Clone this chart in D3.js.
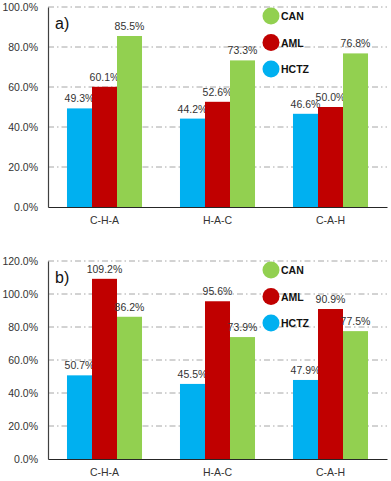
<!DOCTYPE html>
<html>
<head>
<meta charset="utf-8">
<script src="https://cdn.jsdelivr.net/npm/d3@7"></script>
<style>
  body { margin: 0; background: #fff; }
  svg { display: block; font-family: "Liberation Sans", Arial, sans-serif; }
</style>
</head>
<body>
<div id="chart"></div>
<script>
const groups = ['C-H-A', 'H-A-C', 'C-A-H'];
const seriesNames = ['HCTZ', 'AML', 'CAN'];
const colors = ['#00b0f0', '#c00000', '#92d050'];

// panel a
const hctzA = [49.3, 44.2, 46.6];
const amlA = [60.1, 52.6, 50.0];
const canA = [85.5, 73.3, 76.8];
const ticksA = [0, 20, 40, 60, 80, 100];

// panel b
const hctzB = [50.7, 45.5, 47.9];
const amlB = [109.2, 95.6, 90.9];
const canB = [86.2, 73.9, 77.5];
const ticksB = [0, 20, 40, 60, 80, 100, 120];

const svg = d3.select('#chart')
    .append('svg')
    .attr('width', 391)
    .attr('height', 481);

function drawPanel(opts) {
    const { top, bottom, max, ticks, values, tag } = opts;
    const left = 48, right = 387;

    const x0 = d3.scaleBand()
        .domain(groups)
        .range([left, right])
        .paddingInner(0.336)
        .paddingOuter(0.168);

    const x1 = d3.scaleBand()
        .domain(seriesNames)
        .range([0, x0.bandwidth()]);

    const y = d3.scaleLinear()
        .domain([0, max])
        .range([bottom, top]);

    const g = svg.append('g');

    // dash-dot gridlines
    g.selectAll('.grid')
        .data(ticks.filter(t => t > 0))
        .enter()
        .append('line')
        .attr('x1', left)
        .attr('x2', right)
        .attr('y1', d => y(d))
        .attr('y2', d => y(d))
        .attr('stroke', '#a6a6a6')
        .attr('stroke-width', 1)
        .attr('stroke-dasharray', '6,3,1.5,3');

    // y axis
    const yAxis = g.append('g')
        .attr('transform', `translate(${left},0)`)
        .call(d3.axisLeft(y).tickValues(ticks).tickSize(0).tickPadding(10)
            .tickFormat(d => d.toFixed(1) + '%'));
    yAxis.select('.domain').attr('stroke', '#404040').attr('stroke-width', 1.2);
    yAxis.selectAll('text').attr('font-size', 10.5).attr('fill', '#333').attr('font-family', null);

    // bars
    const data = seriesNames.map((s, i) => ({ s, i, vals: values[i] }));
    const series = g.selectAll('.series')
        .data(data)
        .enter()
        .append('g');

    series.selectAll('rect')
        .data(d => d.vals.map((v, j) => ({ s: d.s, i: d.i, v, grp: groups[j] })))
        .enter()
        .append('rect')
        .attr('x', d => x0(d.grp) + x1(d.s))
        .attr('width', x1.bandwidth())
        .attr('y', d => y(d.v))
        .attr('height', d => y(0) - y(d.v))
        .attr('fill', d => colors[d.i]);

    series.selectAll('.val')
        .data(d => d.vals.map((v, j) => ({ s: d.s, v, grp: groups[j] })))
        .enter()
        .append('text')
        .attr('x', d => x0(d.grp) + x1(d.s) + x1.bandwidth() / 2)
        .attr('y', d => y(d.v) - 6)
        .attr('text-anchor', 'middle')
        .attr('font-size', 10.5)
        .attr('fill', '#333')
        .text(d => d.v.toFixed(1) + '%');

    // x axis
    const xAxis = g.append('g')
        .attr('transform', `translate(0,${bottom})`)
        .call(d3.axisBottom(x0).tickSize(0).tickPadding(10));
    xAxis.select('.domain').attr('stroke', '#262626').attr('stroke-width', 1.2);
    xAxis.selectAll('text').attr('font-size', 10.5).attr('fill', '#333').attr('font-family', null);

    // panel tag
    g.append('text')
        .attr('x', 55)
        .attr('y', top + 22)
        .attr('font-size', 16)
        .attr('fill', '#111')
        .text(tag);

    // legend
    const legend = g.selectAll('.leg')
        .data(seriesNames.slice().reverse())
        .enter()
        .append('g')
        .attr('transform', (d, i) => `translate(271,${top + 9 + i * 26.5})`);
    legend.append('circle')
        .attr('r', 8.5)
        .attr('fill', d => colors[seriesNames.indexOf(d)]);
    legend.append('text')
        .attr('x', 10)
        .attr('y', 4)
        .attr('font-size', 10.5)
        .attr('font-weight', 'bold')
        .attr('fill', '#111')
        .text(d => d);
}

drawPanel({ top: 7, bottom: 207, max: 100, ticks: ticksA, values: [hctzA, amlA, canA], tag: 'a)' });
drawPanel({ top: 261, bottom: 459, max: 120, ticks: ticksB, values: [hctzB, amlB, canB], tag: 'b)' });
</script>
</body>
</html>
